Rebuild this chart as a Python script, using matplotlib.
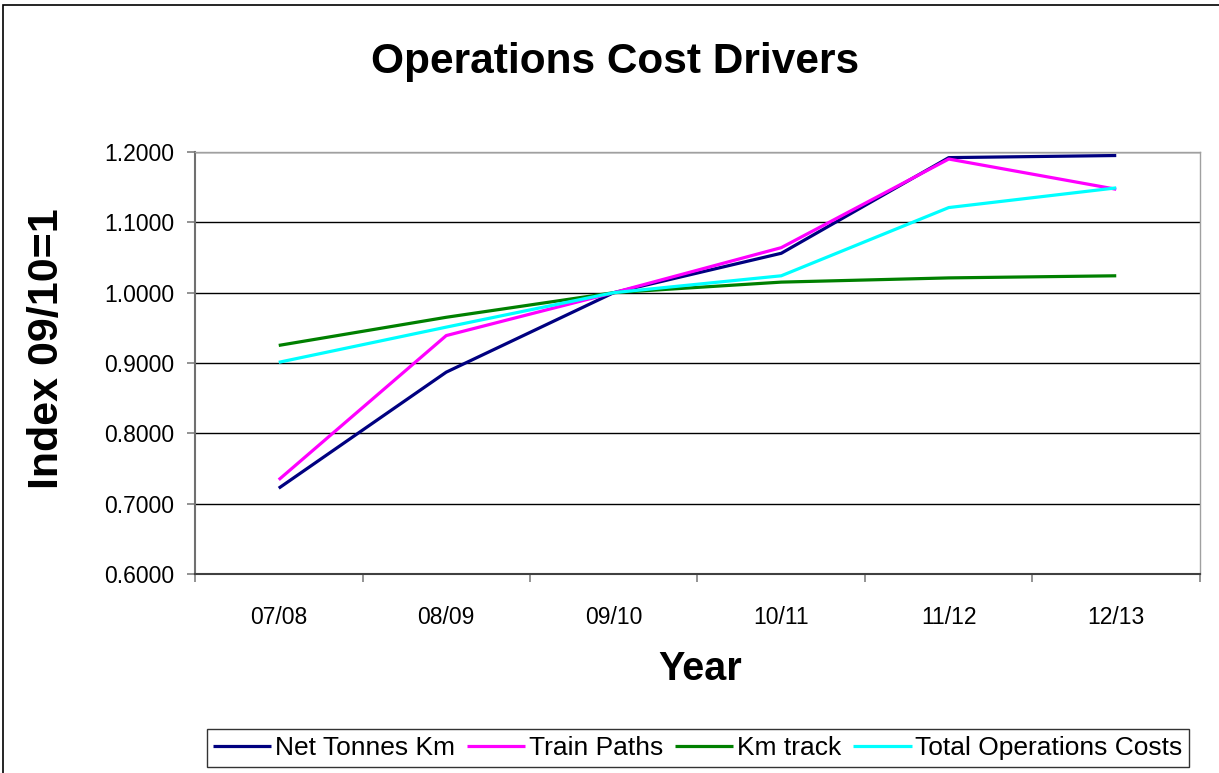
import matplotlib.pyplot as plt
from matplotlib.patches import Rectangle
import numpy as np

# Index values (09/10 = 1)
years = ["07/08", "08/09", "09/10", "10/11", "11/12", "12/13"]
net_tonnes_km = [0.722, 0.887, 1.000, 1.056, 1.192, 1.195]
train_paths = [0.734, 0.939, 1.000, 1.064, 1.190, 1.147]
km_track = [0.925, 0.965, 1.000, 1.015, 1.021, 1.024]
total_ops_costs = [0.901, 0.951, 1.000, 1.024, 1.121, 1.149]

series = [
    ("Net Tonnes Km", net_tonnes_km, "#000080"),
    ("Train Paths", train_paths, "#FF00FF"),
    ("Km track", km_track, "#008000"),
    ("Total Operations Costs", total_ops_costs, "#00FFFF"),
]

plt.rcParams['font.family'] = ['Liberation Sans', 'DejaVu Sans']

fig = plt.figure(figsize=(12.19, 7.73), dpi=100)
ax = fig.add_axes([195 / 1219, 1 - 574 / 773, 1005 / 1219, 422 / 773])

x = np.arange(len(years))
for name, vals, color in series:
    ax.plot(x, vals, color=color, lw=2.3, label=name, solid_capstyle='butt')

ax.set_xlim(-0.5, len(years) - 0.5)
ax.set_ylim(0.6, 1.2)
yt = np.arange(0.6, 1.2001, 0.1)
ax.set_yticks(yt)
ax.set_yticklabels([f"{v:.4f}" for v in yt])
ax.yaxis.grid(True, color='black', lw=1)
ax.set_axisbelow(True)

ax.set_xticks(x)
ax.set_xticklabels(years)
ax.set_xticks(np.arange(-0.5, len(years)), minor=True)
ax.tick_params(axis='x', which='major', length=0, pad=23, labelsize=16.5)
ax.tick_params(axis='x', which='minor', length=6, color='#808080', width=1.2)
ax.tick_params(axis='y', length=6, color='#808080', width=1.2, labelsize=16.5, pad=9)

for side in ['top', 'right']:
    ax.spines[side].set_color('#A0A0A0')
    ax.spines[side].set_linewidth(1)
ax.spines['left'].set_color('#707070')
ax.spines['bottom'].set_color('#404040')
ax.spines['left'].set_linewidth(1.5)
ax.spines['bottom'].set_linewidth(1.5)

fig.text(615 / 1219, 1 - 62 / 773, "Operations Cost Drivers", ha='center', va='center',
         fontsize=30.5, fontweight='bold')
fig.text(47 / 1219, 1 - 349 / 773, "Index 09/10=1", ha='center', va='center',
         rotation=90, fontsize=31, fontweight='bold')
fig.text(700 / 1219, 1 - 669 / 773, "Year", ha='center', va='center',
         fontsize=28.5, fontweight='bold')

leg = fig.legend(loc='center', bbox_to_anchor=(698 / 1219, 1 - 748 / 773), ncol=4,
                 fontsize=19, frameon=True, fancybox=False, handlelength=2.2,
                 handletextpad=0.15, columnspacing=0.45, borderpad=0.25)
leg.get_frame().set_edgecolor('black')
leg.get_frame().set_linewidth(1)

# outer chart border
fig.patches.append(Rectangle((3 / 1219, -0.01), 1.2, 1 - 5 / 773 + 0.01, transform=fig.transFigure,
                             fill=False, edgecolor='black', lw=1.2))

fig.savefig("out.png", dpi=100)
